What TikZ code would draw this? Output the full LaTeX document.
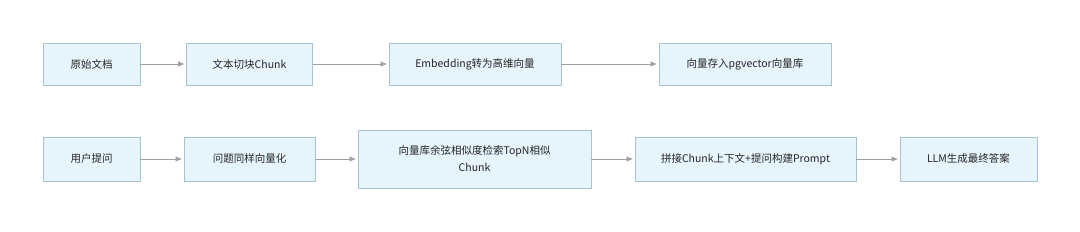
\documentclass[tikz,border=0pt]{standalone}
\usepackage{fontspec}
\setmainfont{Noto Sans CJK SC}
\usetikzlibrary{arrows.meta}
\definecolor{boxfill}{HTML}{E6F4FB}
\definecolor{boxline}{HTML}{A8C2CE}
\definecolor{arr}{HTML}{A0A0A0}
\begin{document}
\begin{tikzpicture}[x=1pt,y=-1pt,
  box/.style={draw=boxline,fill=boxfill,line width=0.8pt,inner sep=0pt,font=\fontsize{10.5}{17}\selectfont,text=black!85,align=center},
  conn/.style={draw=arr,line width=0.7pt,-{Latex[length=6.5pt,width=5.5pt]},shorten >=1.5pt}]
\useasboundingbox (0,0) rectangle (1080,231);
% row 1
\node[box,minimum width=97pt,minimum height=42pt] (a1) at (91.5,64) {原始文档};
\node[box,minimum width=126pt,minimum height=42pt] (a2) at (249.5,64) {文本切块Chunk};
\node[box,minimum width=172pt,minimum height=42pt] (a3) at (475,64) {Embedding转为高维向量};
\node[box,minimum width=172pt,minimum height=42pt] (a4) at (745,64) {向量存入pgvector向量库};
% row 2
\node[box,minimum width=97pt,minimum height=44pt] (b1) at (91.5,159) {用户提问};
\node[box,minimum width=131pt,minimum height=44pt] (b2) at (249.5,159) {问题同样向量化};
\node[box,minimum width=233pt,minimum height=58pt] (b3) at (474.5,159) {向量库余弦相似度检索TopN相似\\Chunk};
\node[box,minimum width=221pt,minimum height=44pt] (b4) at (745.5,159) {拼接Chunk上下文+提问构建Prompt};
\node[box,minimum width=137pt,minimum height=44pt] (b5) at (968.5,159) {LLM生成最终答案};
\draw[conn] (a1) -- (a2);
\draw[conn] (a2) -- (a3);
\draw[conn] (a3) -- (a4);
\draw[conn] (b1) -- (b2);
\draw[conn] (b2) -- (b3);
\draw[conn] (b3) -- (b4);
\draw[conn] (b4) -- (b5);
\end{tikzpicture}
\end{document}
